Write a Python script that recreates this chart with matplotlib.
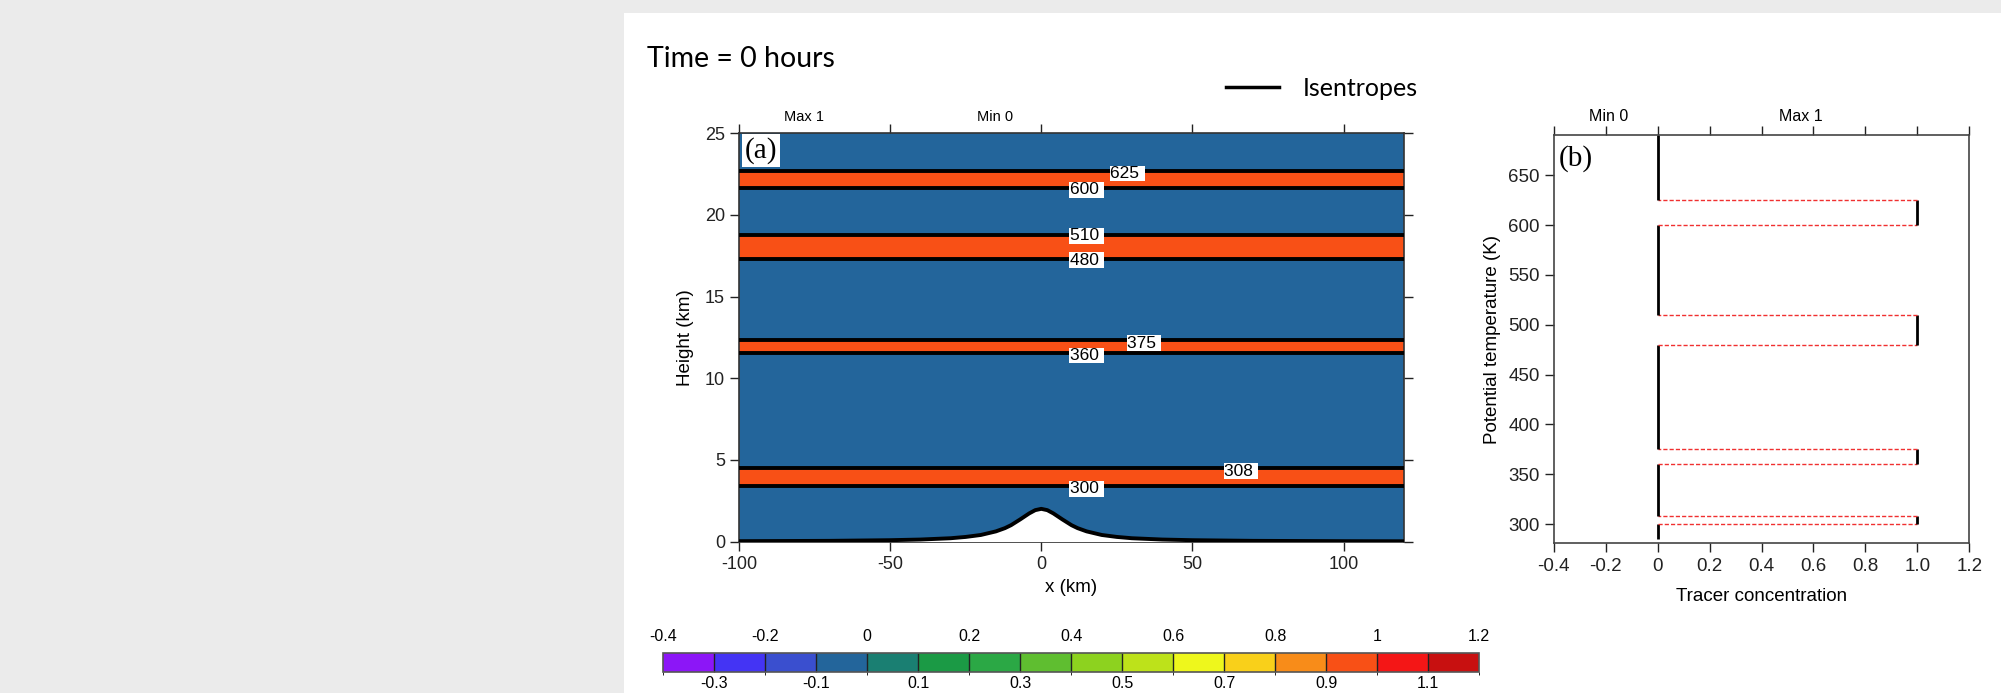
import numpy as np
import matplotlib as mpl
import matplotlib.pyplot as plt
from matplotlib.colors import ListedColormap, BoundaryNorm
from matplotlib.patches import Rectangle
from matplotlib.lines import Line2D

plt.rcParams['font.family'] = ['Liberation Sans', 'DejaVu Sans']
plt.rcParams['axes.unicode_minus'] = False

# colour scale (16 bins of 0.1 from -0.4 to 1.2)
levels = [-0.4, -0.3, -0.2, -0.1, 0.0, 0.1, 0.2, 0.3, 0.4, 0.5, 0.6, 0.7, 0.8, 0.9, 1.0, 1.1, 1.2]
bin_colors = ['#8c16f7', '#4434f4', '#3a4fcf', '#23659b', '#1a7f72', '#1b9a45',
              '#2ba845', '#5fbe30', '#8dd21f', '#bde21a', '#eef71c', '#f9d01a',
              '#f88c19', '#f85016', '#f41616', '#c81010']
cb_top_ticks = [-0.4, -0.2, 0.0, 0.2, 0.4, 0.6, 0.8, 1.0, 1.2]
cb_top_labels = ['-0.4', '-0.2', '0', '0.2', '0.4', '0.6', '0.8', '1', '1.2']
cb_bot_ticks = [-0.3, -0.1, 0.1, 0.3, 0.5, 0.7, 0.9, 1.1]
cb_bot_labels = ['-0.3', '-0.1', '0.1', '0.3', '0.5', '0.7', '0.9', '1.1']

# panel (a): isentropes (K) and their heights (km)
theta_iso = [300, 308, 360, 375, 480, 510, 600, 625]
z_iso = [3.39, 4.49, 11.55, 12.35, 17.29, 18.80, 21.67, 22.71]
label_x = [15, 66, 15, 34, 15, 15, 15, 28.5]
label_z = [3.22, 4.31, 11.39, 12.14, 17.22, 18.73, 21.53, 22.53]

# terrain
terrain_x = [-100, -70, -50, -40, -30, -25, -20, -15, -12, -10, -7, -4, -2, 0,
             2, 4, 7, 10, 12, 15, 20, 25, 30, 40, 50, 70, 100, 120]
terrain_h = [0.02, 0.04, 0.08, 0.12, 0.2, 0.28, 0.4, 0.62, 0.82, 1.0, 1.35, 1.72, 1.92, 2.0,
             1.92, 1.72, 1.35, 1.0, 0.82, 0.62, 0.4, 0.28, 0.2, 0.12, 0.08, 0.04, 0.02, 0.014]

# panel (b): tracer profile vs potential temperature
prof_theta = [285, 300, 300, 308, 308, 360, 360, 375, 375, 480, 480, 510, 510, 600, 600, 625, 625, 690.5]
prof_tracer = [0, 0, 1, 1, 0, 0, 1, 1, 0, 0, 1, 1, 0, 0, 1, 1, 0, 0]

W, H = 2001, 693
fig = plt.figure(figsize=(W / 100, H / 100), dpi=100)
fig.patch.set_facecolor('#ebebeb')
fig.add_artist(Rectangle((624 / W, 0), 1 - 624 / W, 1 - 13 / H, transform=fig.transFigure,
                         fc='white', ec='none', zorder=-1))


def bin_color(v):
    i = np.searchsorted(np.round(levels, 2), v, side='left') - 1
    return bin_colors[i]


# ---------------- panel (a)
ax = fig.add_axes([739 / W, 1 - 541.5 / H, 665 / W, 408.2 / H])
xmin, xmax = -100, 120
ax.fill_between([xmin, xmax], 0, 25, color=bin_color(0), lw=0)
for i in range(0, len(z_iso), 2):
    ax.fill_between([xmin, xmax], z_iso[i], z_iso[i + 1], color=bin_color(1), lw=0)
ax.fill_between(terrain_x, 0, terrain_h, color='white', lw=0, zorder=3)
ax.plot(terrain_x, terrain_h, color='k', lw=2.8, zorder=4)
ax.hlines(z_iso, xmin, xmax, color='k', lw=2.8, zorder=4)
for t, lx, lz in zip(theta_iso, label_x, label_z):
    ax.text(lx, lz, str(t) + ' ', ha='center', va='center', fontsize=12.5, zorder=5,
            bbox=dict(boxstyle='square,pad=0.02', fc='white', ec='none'))
ax.set_xlim(xmin, xmax)
ax.set_ylim(0, 25)
ax.set_xticks([-100, -50, 0, 50, 100])
ax.set_yticks([0, 5, 10, 15, 20, 25])
ax.tick_params(direction='out', length=6.5, width=1, top=True, right=True,
               labelsize=13, colors='#222222')
ax.tick_params(axis='x', pad=4)
ax.set_xlabel('x (km)', fontsize=13.5, labelpad=4)
ax.set_ylabel('Height (km)', fontsize=13.5, labelpad=8)
for s in ax.spines.values():
    s.set_color('#333333')
    s.set_linewidth(1.2)
ax.text(-78.6, 1.04, 'Max 1', transform=ax.get_xaxis_transform(), ha='center', va='center', fontsize=10.5)
ax.text(-15.4, 1.04, 'Min 0', transform=ax.get_xaxis_transform(), ha='center', va='center', fontsize=10.5)
ax.text(0.009, 0.99, '(a)', transform=ax.transAxes, ha='left', va='top', fontsize=21,
        family='Liberation Serif', zorder=6,
        bbox=dict(boxstyle='square,pad=0.1', fc='white', ec='none'))

# ---------------- panel (b)
bx = fig.add_axes([1553.7 / W, 1 - 543 / H, 415.6 / W, 408 / H])
for i in range(len(prof_theta) - 1):
    xs = prof_tracer[i:i + 2]
    ys = prof_theta[i:i + 2]
    if xs[0] == xs[1]:
        bx.plot(xs, ys, color='k', lw=2.0, solid_capstyle='butt')
    else:
        bx.plot(xs, ys, color='#f03030', lw=1.0, ls=(0, (3, 1.5)))
bx.set_xlim(-0.4, 1.2)
bx.set_ylim(281, 690.5)
bx.set_xticks([-0.4, -0.2, 0, 0.2, 0.4, 0.6, 0.8, 1.0, 1.2],
              ['-0.4', '-0.2', '0', '0.2', '0.4', '0.6', '0.8', '1.0', '1.2'])
bx.set_yticks([300, 350, 400, 450, 500, 550, 600, 650])
bx.tick_params(direction='out', length=6.5, width=1, top=True, right=False,
               labelsize=13.5, colors='#222222')
bx.tick_params(axis='x', pad=4)
bx.set_xlabel('Tracer concentration', fontsize=13.5, labelpad=10)
bx.set_ylabel('Potential temperature (K)', fontsize=13.5, labelpad=5)
for s in bx.spines.values():
    s.set_color('#444444')
    s.set_linewidth(1.2)
bx.text(-0.187, 1.045, 'Min 0', transform=bx.get_xaxis_transform(), ha='center', va='center', fontsize=11.5)
bx.text(0.553, 1.045, 'Max 1', transform=bx.get_xaxis_transform(), ha='center', va='center', fontsize=11.5)
bx.text(0.012, 0.975, '(b)', transform=bx.transAxes, ha='left', va='top', fontsize=21,
        family='Liberation Serif')

# ---------------- colour bar
cmap = ListedColormap(bin_colors)
norm = BoundaryNorm(levels, cmap.N)
cax = fig.add_axes([663 / W, 1 - 671.7 / H, 816.3 / W, 19 / H])
cb = fig.colorbar(mpl.cm.ScalarMappable(norm=norm, cmap=cmap), cax=cax,
                  orientation='horizontal', drawedges=True)
cb.outline.set_edgecolor('#555555')
cb.outline.set_linewidth(1.2)
cb.dividers.set_color('#222222')
cb.dividers.set_linewidth(1.0)
cb.set_ticks(cb_bot_ticks, labels=cb_bot_labels)
cax.tick_params(length=0, labelsize=11.5, pad=3)
sec = cax.secondary_xaxis('top')
sec.set_xticks(cb_top_ticks, labels=cb_top_labels)
sec.tick_params(length=0, labelsize=11.5, pad=6)
sec.spines['top'].set_visible(False)

# ---------------- title and legend
fig.text(647 / W, 1 - 67 / H, 'Time = 0 hours', family='Lato', fontsize=20.5, va='baseline', ha='left')
iso_handle = Line2D([], [], color='k', lw=2.5)
fig.legend([iso_handle], ['Isentropes'], loc='center left',
           bbox_to_anchor=(1226 / W, 1 - 88 / H), frameon=False, borderpad=0,
           borderaxespad=0, handlelength=2.1, handletextpad=0.95,
           prop={'family': 'Lato', 'size': 18})

fig.savefig('out.png', dpi=100, facecolor=fig.get_facecolor())
